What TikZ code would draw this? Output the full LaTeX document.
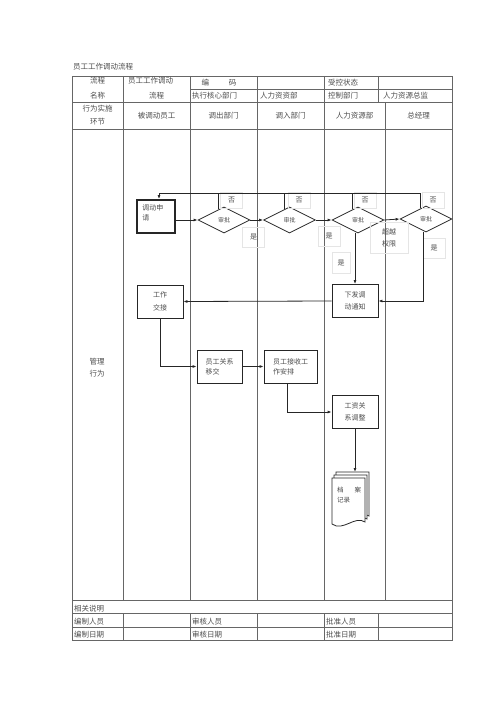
\documentclass[tikz,border=0pt]{standalone}
\usepackage{fontspec}
\setmainfont{Noto Sans CJK SC}
\usetikzlibrary{arrows.meta,positioning,calc,shapes.geometric}
\definecolor{ink}{gray}{0.3}
\definecolor{rule}{gray}{0.4}
\definecolor{faint}{gray}{0.9}

\begin{document}
\begin{tikzpicture}[x=1pt, y=-1pt, >={Latex[length=4pt,width=3pt]},
  font=\fontsize{7.5}{9}\selectfont, text=ink,
  grid/.style={draw=rule, line width=0.7pt},
  txt/.style={inner sep=0pt},
  stn/.style={draw=black!85, line width=0.8pt, minimum width=46pt, minimum height=33pt, inner sep=2pt, font=\fontsize{7}{12.5}\selectfont},
  dec/.style={draw=black!85, line width=0.8pt, diamond, aspect=2, minimum width=52pt, minimum height=26pt, inner sep=0pt, font=\fontsize{6}{7}\selectfont},
  tag/.style={draw=faint, minimum width=22pt, minimum height=16pt, inner sep=0pt, font=\fontsize{7}{12}\selectfont, align=center},
  flow/.style={draw=black!85, line width=0.8pt}]
\useasboundingbox (0,0) rectangle (500,708);

\node[txt, anchor=west] (title) at (73,67) {员工工作调动流程};

\draw[grid] (72,76) rectangle (452,640.7);
\draw[grid] (190,89.5) -- (452,89.5);
\foreach \y in {102.7,129,600.7,613.7,627} \draw[grid] (72,\y) -- (452,\y);
\foreach \x in {123.5,190,257,324} {
  \draw[grid] (\x,76) -- (\x,600.7);
  \draw[grid] (\x,613.7) -- (\x,640.7);
}
\draw[grid] (378,76) -- (378,102.7);
\draw[grid] (385,102.7) -- (385,600.7);
\draw[grid] (378,613.7) -- (378,640.7);

\node[txt] (nm1) at (97.7,81) {流程};
\node[txt] (nm2) at (97.7,95.7) {名称};
\node[txt, anchor=west] (fl1) at (128,81) {员工工作调动};
\node[txt] (fl2) at (156.7,95.7) {流程};
\node[txt] (code) at (219,82.7) {编\hspace{20pt}码};
\node[txt, anchor=west] (exec) at (192,96) {执行核心部门};
\node[txt, anchor=west] (hrx) at (260,96) {人力资资部};
\node[txt, anchor=west] (ctl1) at (328,82.7) {受控状态};
\node[txt, anchor=west] (ctl2) at (328,96) {控制部门};
\node[txt, anchor=west] (hrd) at (383,96) {人力资源总监};

\node[txt] (act1) at (97.7,108.5) {行为实施};
\node[txt] (act2) at (97.7,121.7) {环节};
\node[txt] (lane1) at (156.7,115.8) {被调动员工};
\node[txt] (lane2) at (223.5,115.8) {调出部门};
\node[txt] (lane3) at (290.5,115.8) {调入部门};
\node[txt] (lane4) at (354.5,115.8) {人力资源部};
\node[txt] (lane5) at (418.5,115.8) {总经理};
\node[txt, align=center, font=\fontsize{7.5}{12}\selectfont] (mgmt) at (97,368) {管理\\行为};

\node[txt, anchor=west] (note) at (74,608.5) {相关说明};
\node[txt, anchor=west] (mk1) at (74,621.8) {编制人员};
\node[txt, anchor=west] (mk2) at (74,635) {编制日期};
\node[txt, anchor=west] (ck1) at (192,621.8) {审核人员};
\node[txt, anchor=west] (ck2) at (192,635) {审核日期};
\node[txt, anchor=west] (ap1) at (326,621.8) {批准人员};
\node[txt, anchor=west] (ap2) at (326,635) {批准日期};

\node[stn, minimum width=38pt, line width=1.8pt] (apply) at (156,216.5) {};
\node[txt, anchor=north west, align=left, font=\fontsize{7}{10}\selectfont] (applytxt) at ([shift={(6,5)}]apply.north west) {调动申\\请};
\node[dec] (d1) at (224,220) {审批};
\node[dec] (d2) at (289.5,220) {审批};
\node[dec] (d3) at (358,220) {审批};
\node[dec] (d4) at (426,219) {审批};
\node[stn, align=center] (notice) at (355,301) {下发调\\动通知};
\node[stn, align=center] (handover) at (160,301.5) {工作\\交接};
\node[stn, minimum width=45pt, align=left, font=\fontsize{7}{10}\selectfont] (transfer) at (219.5,366.5) {员工关系\\移交};
\node[stn, minimum width=53pt, align=left, font=\fontsize{7}{10}\selectfont] (receive) at (290.5,366.5) {员工接收工\\作安排};
\node[stn, align=center] (wage) at (355,412) {工资关\\系调整};

\node[tag] (no1) at (231.5,200) {否};
\node[tag] (no2) at (299,200) {否};
\node[tag] (no3) at (365,200) {否};
\node[tag] (no4) at (433,200) {否};
\node[tag, minimum height=20pt] (yes1) at (253.5,237) {是};
\node[tag, minimum height=20pt] (yes2) at (329,236) {是};
\node[tag, minimum width=18pt, minimum height=21pt] (yes3) at (341,262.5) {是};
\node[tag, minimum height=20pt] (yes4) at (434,248) {是};
\node[tag, minimum width=38pt, minimum height=31pt] (over) at (389,237.5) {超越\\权限};

\coordinate (ret) at (159,193);
\coordinate (n1) at ($(d1.north)!0.2!(d1.west)$);
\coordinate (n2) at ($(d2.north)!0.2!(d2.west)$);
\coordinate (n3) at ($(d3.north)!0.2!(d3.west)$);
\coordinate (n4) at ($(d4.north)!0.2!(d4.west)$);
\draw[flow] (n1) -- (n1 |- ret);
\draw[flow] (n2) -- (n2 |- ret);
\draw[flow] (n3) -- (n3 |- ret);
\draw[flow, ->] (n4) |- (ret) -- (ret |- apply.north);

\draw[flow, ->] (apply.east |- d1.west) -- (d1.west);
\draw[flow, ->] (d1.east) -- (d2.west);
\draw[flow, ->] (d2.east) -- (d3.west);
\draw[flow, ->] (d3.east) -- (d4.west);
\draw[flow, ->] (notice.north |- d3.south) -- (notice.north);
\draw[flow, ->] ([xshift=-3pt]d4.south) |- (notice.east);
\draw[flow, ->] (notice.west) -- (handover.east);
\draw[flow, ->] (handover.south) |- (transfer.west);
\draw[flow, ->] (transfer.east) -- (receive.west);
\draw[flow, ->] ([xshift=-3pt]receive.south) |- (wage.west);

\foreach \d in {4,2,0}
  \draw[flow, fill=white, shift={(\d,-1.5*\d)}] (332,478) -- (365,478) -- (365,522) .. controls (355,515) and (343,532) .. (332,524) -- cycle;
\coordinate (archtop) at (355,472);
\draw[flow, ->] (wage.south) -- (wage.south |- archtop);
\node[txt, anchor=north west, align=left, font=\fontsize{6.5}{11}\selectfont] (archive) at (337,487) {档\hspace{11pt}案\\[-1pt]记录};
\end{tikzpicture}
\end{document}
